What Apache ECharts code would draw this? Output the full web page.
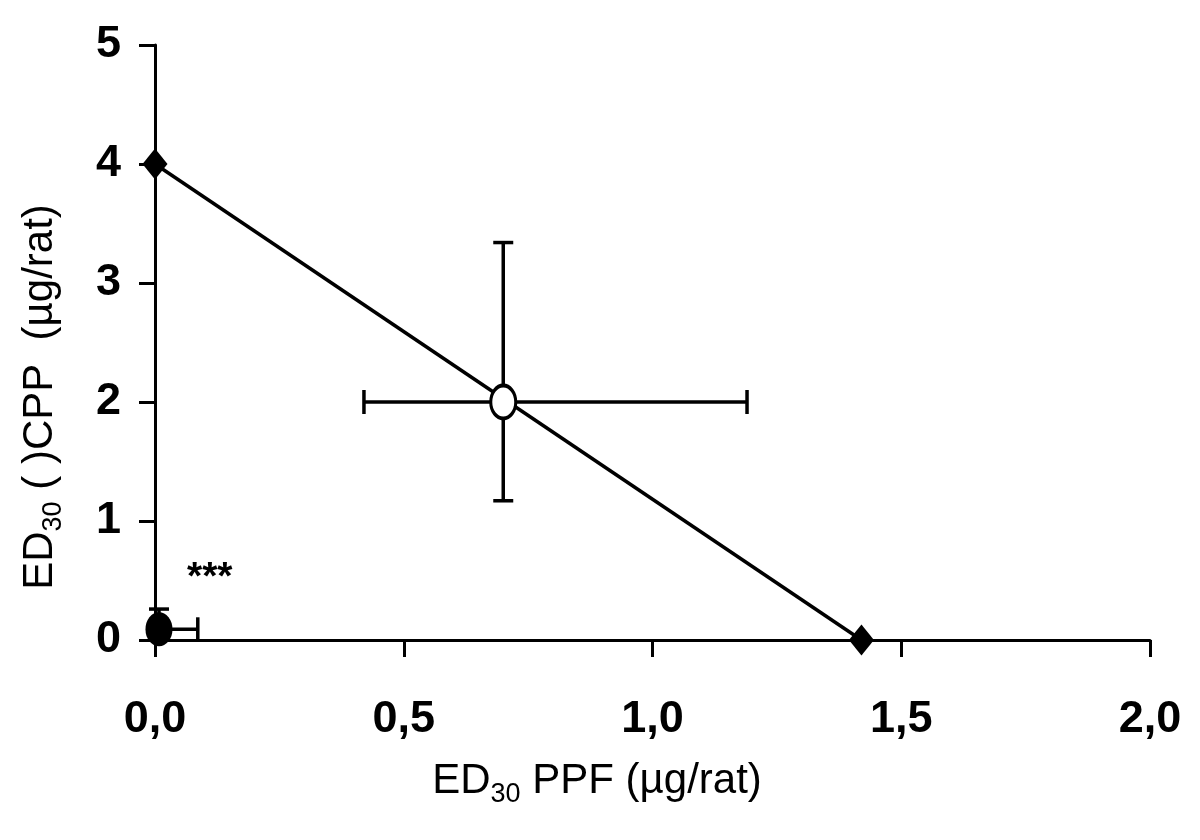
<!DOCTYPE html>
<html>
<head>
<meta charset="utf-8">
<script src="https://cdn.jsdelivr.net/npm/echarts@6/dist/echarts.min.js"></script>
<style>
html,body{margin:0;padding:0;background:#fff;}
#chart{width:1200px;height:840px;}
</style>
</head>
<body>
<div id="chart"></div>
<script>
// ---- data ----
var xTickLabels = ['0,0', '0,5', '1,0', '1,5', '2,0'];
var yTickLabels = ['0', '1', '2', '3', '4', '5'];

// isobole line (diamonds): ED30 of each drug alone
var lineX = [0, 1.42];
var lineY = [4, 0];

// theoretical additive point (open circle) with SEM
var openX = [0.70];
var openY = [2.0];
var openXLow = [0.42];
var openXHigh = [1.19];
var openYLow = [1.17];
var openYHigh = [3.34];

// experimental point (filled circle) with SEM
var filledX = [0.008];
var filledY = [0.09];
var filledXLow = [0.008];
var filledXHigh = [0.086];
var filledYLow = [0.09];
var filledYHigh = [0.26];

// significance annotation
var annotText = ['***'];
var annotX = [0.11];
var annotY = [0.52];

var xNameMain = 'ED';
var xNameSub = '30';
var xNameRest = ' PPF (µg/rat)';
var yNameMain = 'ED';
var yNameSub = '30';
var yNameRest = ' ( )CPP  (µg/rat)';

// ---- build ----
function zip(a, b) { return a.map(function (v, i) { return [v, b[i]]; }); }

var errData = [];
openX.forEach(function (x, i) {
  errData.push([x, openY[i], openXLow[i], openXHigh[i], openYLow[i], openYHigh[i]]);
});
filledX.forEach(function (x, i) {
  errData.push([x, filledY[i], filledXLow[i], filledXHigh[i], filledYLow[i], filledYHigh[i]]);
});

var black = '#000000';
var LW = 3;
var DLW = 3.5;

function renderErr(params, api) {
  var x = api.value(0), y = api.value(1);
  var xl = api.value(2), xh = api.value(3), yl = api.value(4), yh = api.value(5);
  var c = api.coord([x, y]);
  var children = [];
  var st = { stroke: black, lineWidth: DLW };
  var vCap = 10, hCap = 12;
  function seg(p1, p2) {
    children.push({ type: 'line', shape: { x1: p1[0], y1: p1[1], x2: p2[0], y2: p2[1] }, style: st });
  }
  var p;
  if (yh !== y) {
    p = api.coord([x, yh]);
    seg(c, p); seg([p[0] - vCap, p[1]], [p[0] + vCap, p[1]]);
  }
  if (yl !== y) {
    p = api.coord([x, yl]);
    seg(c, p); seg([p[0] - vCap, p[1]], [p[0] + vCap, p[1]]);
  }
  if (xh !== x) {
    p = api.coord([xh, y]);
    seg(c, p); seg([p[0], p[1] - hCap], [p[0], p[1] + hCap]);
  }
  if (xl !== x) {
    p = api.coord([xl, y]);
    seg(c, p); seg([p[0], p[1] - hCap], [p[0], p[1] + hCap]);
  }
  return { type: 'group', children: children };
}

var nameRich = {
  m: { fontFamily: 'Liberation Sans, Arial, sans-serif', fontSize: 42, color: black, verticalAlign: 'top' },
  s: { fontFamily: 'Liberation Sans, Arial, sans-serif', fontSize: 27, color: black, verticalAlign: 'top', padding: [21, 0, 0, 0] }
};

var chart = echarts.init(document.getElementById('chart'), null, { renderer: 'canvas' });

var tickFont = 'Liberation Sans Narrow, Arial Narrow, Liberation Sans, Arial, sans-serif';

var option = {
  backgroundColor: '#ffffff',
  animation: false,
  grid: { left: 155, right: 50, top: 45, bottom: 200, containLabel: false },
  xAxis: {
    type: 'value', min: 0, max: 2, interval: 0.5,
    axisLine: { show: true, onZero: false, lineStyle: { color: black, width: LW } },
    axisTick: { show: true, length: 17, lineStyle: { color: black, width: LW } },
    splitLine: { show: false },
    axisLabel: {
      margin: 57, color: black, fontFamily: tickFont,
      fontWeight: 'bold', fontSize: 45,
      formatter: function (v) { return xTickLabels[Math.round(v / 0.5)]; }
    }
  },
  yAxis: {
    type: 'value', min: 0, max: 5, interval: 1,
    axisLine: { show: true, onZero: false, lineStyle: { color: black, width: LW } },
    axisTick: { show: true, length: 16, lineStyle: { color: black, width: LW } },
    splitLine: { show: false },
    axisLabel: {
      margin: 34, color: black, fontFamily: tickFont,
      fontWeight: 'bold', fontSize: 45,
      formatter: function (v) { return yTickLabels[Math.round(v)]; }
    }
  },
  graphic: [
    {
      type: 'text', x: 597, y: 760, z: 10,
      style: {
        text: '{m|' + xNameMain + '}{s|' + xNameSub + '}{m|' + xNameRest + '}',
        align: 'center', verticalAlign: 'top', rich: nameRich
      }
    },
    {
      type: 'text', x: 19, y: 397, rotation: Math.PI / 2, z: 10,
      style: {
        text: '{m|' + yNameMain + '}{s|' + yNameSub + '}{m|' + yNameRest + '}',
        align: 'center', verticalAlign: 'top', rich: nameRich
      }
    }
  ],
  series: [
    {
      type: 'line', data: zip(lineX, lineY), z: 2,
      symbol: 'diamond', symbolSize: [25, 31],
      lineStyle: { color: black, width: DLW },
      itemStyle: { color: black, opacity: 1 }
    },
    {
      type: 'custom', data: errData, renderItem: renderErr, z: 3,
      encode: { x: 0, y: 1 }
    },
    {
      type: 'scatter', data: zip(openX, openY), z: 4,
      symbol: 'circle', symbolSize: [25, 33],
      itemStyle: { color: '#ffffff', borderColor: black, borderWidth: 3.5, opacity: 1 }
    },
    {
      type: 'scatter', data: zip(filledX, filledY), z: 4,
      symbol: 'circle', symbolSize: [27, 34], clip: false,
      itemStyle: { color: black, opacity: 1 }
    },
    {
      type: 'scatter', data: zip(annotX, annotY), z: 5,
      symbolSize: 0, silent: true,
      itemStyle: { opacity: 1 },
      label: {
        show: true, position: 'inside', color: black, opacity: 1,
        fontFamily: 'Liberation Sans, Arial, sans-serif', fontWeight: 'bold', fontSize: 39,
        formatter: function (p) { return annotText[p.dataIndex]; }
      }
    }
  ]
};
chart.setOption(option);
</script>
</body>
</html>
